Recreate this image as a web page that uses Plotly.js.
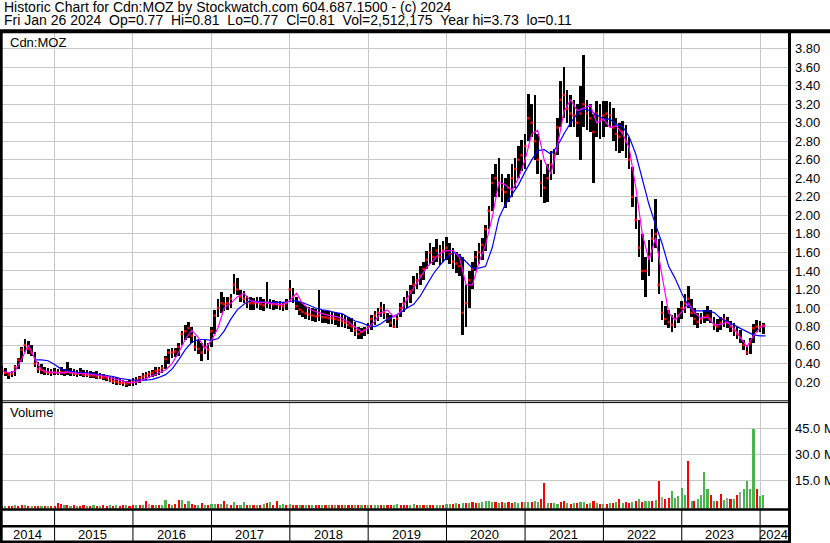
<!DOCTYPE html>
<html><head><meta charset="utf-8">
<script src="https://cdn.plot.ly/plotly-3.0.1.min.js"></script>
<style>html,body{margin:0;padding:0;background:#fff;overflow:hidden}#chart{width:830px;height:543px}</style>
</head><body><div id="chart"></div>
<script>
// ---------- text ----------
const HEADER_1 = "Historic Chart for Cdn:MOZ by Stockwatch.com 604.687.1500 - (c) 2024";
const HEADER_2 = "Fri Jan 26 2024 \u00a0Op=0.77 \u00a0Hi=0.81 \u00a0Lo=0.77 \u00a0Cl=0.81 \u00a0Vol=2,512,175 \u00a0Year hi=3.73 \u00a0lo=0.11";
const PRICE_LABEL = "Cdn:MOZ";
const VOLUME_LABEL = "Volume";
const YEAR_LABELS = ["2014","2015","2016","2017","2018","2019","2020","2021","2022","2023","2024"];
const VOL_TICKS = [15, 30, 45];
const VOL_TICK_TEXT = ["15.0 M", "30.0 M", "45.0 M"];

// ---------- half-monthly price bars (high / low / close) ----------
const HIGH_2014 = [.37,.35,.31,.32,.38,.46,.58,.66,.64,.60,.53,.42,.40,.36,.35,.34];
const LOW_2014  = [.28,.27,.23,.26,.27,.34,.42,.52,.50,.48,.36,.30,.29,.28,.28,.27];
const CLOSE_2014= [.33,.30,.28,.29,.36,.44,.55,.60,.56,.52,.40,.34,.33,.31,.30,.30];

const HIGH_2015 = [.35,.34,.36,.34,.42,.35,.34,.33,.35,.33,.33,.32,.31,.32,.30,.29,.28,.27,.26,.25,.24,.22,.21,.22];
const LOW_2015  = [.28,.28,.28,.27,.28,.27,.27,.26,.27,.26,.25,.24,.24,.23,.23,.22,.21,.20,.18,.17,.17,.16,.15,.16];
const CLOSE_2015= [.31,.30,.31,.30,.31,.30,.29,.29,.30,.28,.28,.27,.27,.26,.25,.25,.24,.22,.21,.20,.19,.19,.18,.19];

const HIGH_2016 = [.24,.25,.27,.30,.31,.32,.33,.36,.36,.38,.48,.56,.57,.57,.62,.75,.82,.85,.80,.70,.65,.62,.65,.62];
const LOW_2016  = [.16,.17,.19,.21,.22,.24,.26,.27,.28,.30,.34,.40,.46,.47,.48,.60,.65,.68,.62,.54,.50,.43,.50,.44];
const CLOSE_2016= [.20,.22,.24,.26,.27,.29,.30,.32,.33,.35,.45,.52,.52,.53,.58,.72,.75,.78,.70,.58,.56,.52,.58,.55];

const HIGH_2017 = [.80,.98,1.10,1.17,1.12,1.12,1.15,1.37,1.32,1.19,1.18,1.13,1.12,1.11,1.12,1.12,1.10,1.28,1.10,1.09,1.08,1.08,1.07,1.10];
const LOW_2017  = [.58,.72,.90,.95,.97,.98,1.00,1.15,1.14,1.07,1.05,1.00,.98,.98,1.00,.98,.97,1.00,.99,.98,.99,.98,.97,.98];
const CLOSE_2017= [.75,.92,1.00,1.05,1.04,1.05,1.10,1.25,1.20,1.12,1.10,1.06,1.05,1.05,1.06,1.04,1.03,1.06,1.05,1.04,1.04,1.03,1.02,1.05];

const HIGH_2018 = [1.30,1.22,1.12,1.06,1.05,1.02,1.01,1.00,.99,1.19,.98,.97,.97,.96,.96,.95,.94,.92,.90,.89,.85,.80,.78,.80];
const LOW_2018  = [1.08,1.05,.98,.92,.90,.88,.87,.86,.85,.86,.84,.84,.83,.83,.82,.80,.79,.78,.77,.74,.70,.66,.67,.70];
const CLOSE_2018= [1.20,1.12,1.02,.98,.96,.94,.93,.92,.91,.92,.90,.90,.89,.89,.88,.87,.86,.84,.82,.80,.76,.72,.74,.76];

const HIGH_2019 = [.84,.92,.97,1.00,1.06,1.04,.95,.92,.88,.92,1.05,1.12,1.18,1.25,1.35,1.38,1.45,1.50,1.62,1.70,1.66,1.74,1.68,1.72];
const LOW_2019  = [.72,.76,.82,.86,.90,.88,.84,.80,.78,.78,.90,.96,1.00,1.05,1.15,1.20,1.25,1.30,1.42,1.48,1.46,1.50,1.46,1.50];
const CLOSE_2019= [.80,.88,.92,.95,1.00,.95,.88,.84,.80,.88,1.00,1.05,1.10,1.18,1.25,1.30,1.35,1.42,1.52,1.60,1.55,1.62,1.55,1.62];

const HIGH_2020 = [1.77,1.70,1.65,1.60,1.58,1.55,1.25,1.40,1.50,1.62,1.70,1.76,1.90,2.10,2.45,2.55,2.62,2.45,2.40,2.45,2.55,2.62,2.75,2.81];
const LOW_2020  = [1.52,1.48,1.42,1.38,1.35,.71,.80,1.00,1.20,1.40,1.48,1.52,1.62,1.85,2.05,2.20,2.20,2.15,2.08,2.14,2.20,2.30,2.40,2.48];
const CLOSE_2020= [1.65,1.58,1.50,1.48,1.45,.95,1.05,1.30,1.42,1.55,1.60,1.68,1.85,2.05,2.35,2.40,2.35,2.28,2.25,2.30,2.40,2.50,2.60,2.65];

const HIGH_2021 = [2.88,3.31,3.20,3.30,2.88,2.60,2.45,2.55,2.70,2.72,3.05,3.45,3.60,3.35,3.30,3.25,3.20,3.40,3.73,3.25,3.20,3.10,3.24,3.20];
const LOW_2021  = [2.50,2.80,2.85,2.60,2.45,2.20,2.13,2.15,2.38,2.45,2.65,2.95,3.05,3.00,2.95,2.95,2.85,2.60,2.95,2.92,2.90,2.35,2.85,2.82];
const CLOSE_2021= [2.75,3.05,3.00,2.80,2.60,2.35,2.30,2.40,2.55,2.65,2.95,3.25,3.30,3.15,3.10,3.08,3.00,3.10,3.20,3.10,3.05,2.90,3.10,3.05];

const HIGH_2022 = [3.24,3.24,3.22,3.16,3.05,3.00,3.02,2.98,2.85,2.52,2.20,1.95,1.80,1.55,1.73,1.85,2.18,1.75,1.08,1.02,.98,.92,.95,1.00];
const LOW_2022  = [2.85,2.96,2.95,2.80,2.70,2.67,2.70,2.62,2.50,2.09,1.85,1.55,1.30,1.12,1.35,1.50,1.65,1.15,.87,.82,.78,.74,.78,.84];
const CLOSE_2022= [3.08,3.10,3.08,2.95,2.88,2.85,2.90,2.80,2.60,2.20,1.95,1.65,1.40,1.40,1.55,1.75,1.80,1.25,.95,.88,.85,.82,.88,.92];

const HIGH_2023 = [1.08,1.15,1.24,1.10,1.00,.95,.95,.98,1.02,.98,.90,.88,.90,.93,.90,.86,.84,.80,.76,.65,.60,.68,.83,.87];
const LOW_2023  = [.88,.95,1.00,.90,.82,.78,.83,.84,.86,.84,.76,.74,.76,.80,.78,.74,.70,.66,.62,.55,.49,.50,.62,.74];
const CLOSE_2023= [1.00,1.05,1.10,.95,.88,.85,.88,.90,.92,.88,.82,.80,.84,.88,.84,.80,.76,.72,.68,.60,.52,.62,.78,.80];

const HIGH_2024 = [.86,.84];
const LOW_2024  = [.74,.72];
const CLOSE_2024= [.80,.81];

// ---------- half-monthly volume (millions) and direction u=up d=down n=unchanged ----------
const VOL_2014 = [.4,.3,.4,.3,.5,.4,.6,.5,.4,.3,.4,.3,.3,.4,.3,.3];
const VOL_2015 = [.4,1.9,1.2,.6,.5,.4,.5,.4,.4,.5,.4,.4,.6,.4,.4,.5,.4,.5,.4,.5,.4,.6,.5,.4];
const VOL_2016 = [.5,.6,.5,.8,3.1,1.3,1.0,.8,.7,1.0,3.7,1.2,1.0,1.5,3.5,3.6,1.5,3.2,1.3,1.0,.8,1.9,.8,.6];
const VOL_2017 = [1.2,1.5,1.6,1.2,3.1,1.6,1.0,2.4,1.0,.9,2.4,.8,.7,.9,.7,.8,1.2,2.0,2.3,.8,3.1,.9,1.3,.8];
const VOL_2018 = [1.2,.9,.8,.7,.6,.8,.6,.7,.5,.9,.6,.5,.6,.5,.7,.5,.6,.5,.8,.7,.9,.8,.6,.7];
const VOL_2019 = [.7,.8,.9,.8,.9,.7,.8,.7,.8,1.3,.9,.8,.9,.8,1.3,1.0,.9,.8,.9,.7,.8,.7,.8,.9];
const VOL_2020 = [1.2,1.4,1.6,1.8,1.6,2.0,1.8,2.0,2.4,1.8,2.0,2.7,3.0,2.8,2.5,2.2,2.0,2.4,1.8,2.2,1.9,2.4,2.0,2.2];
const VOL_2021 = [2.2,2.6,2.4,2.8,2.2,4.0,13.7,2.0,1.8,2.0,1.6,2.2,3.0,1.8,1.6,2.0,1.8,2.7,2.2,1.6,2.0,3.0,1.8,1.6];
const VOL_2022 = [1.4,1.6,1.8,2.0,2.2,4.0,1.8,2.4,2.0,2.4,2.8,4.0,2.6,3.0,3.2,2.8,3.5,14.8,5.5,4.5,5.0,9.0,5.0,6.0];
const VOL_2023 = [10.3,6.7,26,3,3,4,6.7,20,10,6.4,3,3,7,3.5,4.6,4,4,6.4,8,10,14.6,10,44.4,10];
const VOL_2024 = [6.0,6.7];
const DIR_2014 = "dudd uddu dudd udud";
const DIR_2015 = "dddu dudu ddud udud dudu ddud";
const DIR_2016 = "dudu dndu duud uddu dudd udud";
const DIR_2017 = "uudu dudu duud udud udud duud";
const DIR_2018 = "uddu dudu ddud udud dudd udud";
const DIR_2019 = "uduu dudd uudd duud udud duud";
const DIR_2020 = "uudu dudu dduu uuud udud duud";
const DIR_2021 = "uudu uddu duud dudu duud udud";
const DIR_2022 = "udud udud dudu duud udnd duuu";
const DIR_2023 = "uudu duuu udud dund udnu uuud";
const DIR_2024 = "uu";

// ---------- monthly moving averages (magenta fast, blue slow) ----------
const MA_FAST_2014 = [0.32,0.30,0.32,0.45,0.60,0.45,0.33,0.31];
const MA_FAST_2015 = [0.30,0.30,0.31,0.30,0.29,0.29,0.28,0.27,0.26,0.24,0.22,0.20];
const MA_FAST_2016 = [0.19,0.21,0.24,0.27,0.30,0.33,0.40,0.52,0.66,0.76,0.68,0.56];
const MA_FAST_2017 = [0.65,0.79,1.00,1.05,1.12,1.16,1.08,1.06,1.06,1.05,1.04,1.04];
const MA_FAST_2018 = [1.08,1.16,1.05,0.99,0.96,0.94,0.92,0.91,0.89,0.85,0.79,0.74];
const MA_FAST_2019 = [0.78,0.86,0.95,0.98,0.90,0.96,1.10,1.22,1.33,1.44,1.52,1.59];
const MA_FAST_2020 = [1.62,1.62,1.55,1.25,1.25,1.50,1.68,1.98,2.36,2.33,2.27,2.40];
const MA_FAST_2021 = [2.60,2.88,2.92,2.59,2.45,2.75,3.12,3.25,3.13,3.16,3.19,3.00];
const MA_FAST_2022 = [3.04,2.95,2.97,2.88,2.73,2.30,1.80,1.52,1.76,1.35,0.95,0.87];
const MA_FAST_2023 = [0.96,1.05,0.95,0.89,0.90,0.82,0.82,0.85,0.78,0.68,0.58,0.70];
const MA_FAST_2024 = [0.79,0.81];

const MA_SLOW_2014 = [null,null,null,null,null,0.44,0.44,0.43];
const MA_SLOW_2015 = [0.39,0.34,0.32,0.31,0.30,0.30,0.29,0.28,0.27,0.26,0.24,0.23];
const MA_SLOW_2016 = [0.22,0.22,0.22,0.23,0.25,0.28,0.34,0.44,0.55,0.63,0.66,0.66];
const MA_SLOW_2017 = [0.65,0.67,0.75,0.88,0.98,1.04,1.08,1.07,1.06,1.06,1.06,1.06];
const MA_SLOW_2018 = [1.07,1.08,1.06,1.03,1.00,0.98,0.97,0.95,0.94,0.90,0.86,0.84];
const MA_SLOW_2019 = [0.81,0.80,0.83,0.88,0.91,0.95,1.00,1.04,1.13,1.25,1.37,1.46];
const MA_SLOW_2020 = [1.54,1.60,1.57,1.50,1.43,1.43,1.45,1.65,1.97,2.12,2.22,2.33];
const MA_SLOW_2021 = [2.47,2.60,2.70,2.71,2.66,2.75,2.88,3.00,3.10,3.15,3.13,3.09];
const MA_SLOW_2022 = [3.04,3.04,2.98,2.96,2.85,2.66,2.38,2.12,1.90,1.70,1.45,1.32];
const MA_SLOW_2023 = [1.16,1.02,0.97,0.97,0.97,0.95,0.89,0.85,0.82,0.78,0.74,0.71];
const MA_SLOW_2024 = [0.70,0.70];

const FIRST_YEAR = 2014, FIRST_MONTH = 5, LAST_DATE = "2024-01-26";
const X_RANGE = ["2014-05-01", "2024-05-10"];

// ---------- assemble ----------
const cat = (...a) => [].concat(...a);
const HIGH = cat(HIGH_2014,HIGH_2015,HIGH_2016,HIGH_2017,HIGH_2018,HIGH_2019,HIGH_2020,HIGH_2021,HIGH_2022,HIGH_2023,HIGH_2024);
const LOW = cat(LOW_2014,LOW_2015,LOW_2016,LOW_2017,LOW_2018,LOW_2019,LOW_2020,LOW_2021,LOW_2022,LOW_2023,LOW_2024);
const CLOSE = cat(CLOSE_2014,CLOSE_2015,CLOSE_2016,CLOSE_2017,CLOSE_2018,CLOSE_2019,CLOSE_2020,CLOSE_2021,CLOSE_2022,CLOSE_2023,CLOSE_2024);
const VOL = cat(VOL_2014,VOL_2015,VOL_2016,VOL_2017,VOL_2018,VOL_2019,VOL_2020,VOL_2021,VOL_2022,VOL_2023,VOL_2024);
const DIR = [DIR_2014,DIR_2015,DIR_2016,DIR_2017,DIR_2018,DIR_2019,DIR_2020,DIR_2021,DIR_2022,DIR_2023,DIR_2024].join('').replace(/\s/g,'').split('');
const MA_FAST = cat(MA_FAST_2014,MA_FAST_2015,MA_FAST_2016,MA_FAST_2017,MA_FAST_2018,MA_FAST_2019,MA_FAST_2020,MA_FAST_2021,MA_FAST_2022,MA_FAST_2023,MA_FAST_2024);
const MA_SLOW = cat(MA_SLOW_2014,MA_SLOW_2015,MA_SLOW_2016,MA_SLOW_2017,MA_SLOW_2018,MA_SLOW_2019,MA_SLOW_2020,MA_SLOW_2021,MA_SLOW_2022,MA_SLOW_2023,MA_SLOW_2024);

const pad = n => String(n).padStart(2,'0');
function halfMonthDates(n){ const out=[]; let y=FIRST_YEAR,m=FIRST_MONTH,h=0;
  for(let i=0;i<n;i++){ out.push(y+'-'+pad(m)+'-'+(h?'16':'01')); if(h){m++; if(m>12){m=1;y++;}} h=1-h; } return out; }
function monthDates(n){ const out=[]; let y=FIRST_YEAR,m=FIRST_MONTH;
  for(let i=0;i<n;i++){ out.push(y+'-'+pad(m)+'-01'); m++; if(m>12){m=1;y++;} } return out; }
const DATES = halfMonthDates(HIGH.length);
const MA_DATES = monthDates(MA_FAST.length-1).concat([LAST_DATE]);

const DIR_COLOR = {u:'#4cb44c', d:'#ff0000', n:'#a0a0a0'};
const DAY = 864e5;
const W = 830, H = 543;
const FONT = 'Liberation Sans, Arial, sans-serif';
const px = v => v / W, py = v => 1 - v / H;
const VOL_RANGE = [-1.27, 59.9];

const traces = [
  {type:'bar', x:DATES, base:LOW, y:HIGH.map((h,i)=>+(h-LOW[i]).toFixed(3)), width:12*DAY,
   marker:{color:'#000', line:{width:0}}, xaxis:'x', yaxis:'y', hoverinfo:'skip'},
  {type:'scatter', mode:'markers', x:DATES, y:CLOSE, marker:{symbol:'square', size:2.5, color:'#ff0000', line:{width:0}},
   xaxis:'x', yaxis:'y', hoverinfo:'skip'},
  {type:'scatter', mode:'lines', x:MA_DATES, y:MA_SLOW, line:{color:'#0000ff', width:1.2}, xaxis:'x', yaxis:'y', hoverinfo:'skip'},
  {type:'scatter', mode:'lines', x:MA_DATES, y:MA_FAST, line:{color:'#ff00ff', width:1.2}, xaxis:'x', yaxis:'y', hoverinfo:'skip'},
  {type:'bar', x:DATES, base:VOL_RANGE[0], y:VOL.map(v=>+(v-VOL_RANGE[0]).toFixed(3)), width:10*DAY,
   marker:{color:DIR.map(d=>DIR_COLOR[d]), line:{width:0}}, xaxis:'x', yaxis:'y2', hoverinfo:'skip'}
];

// year boxes
const t = s => Date.parse(s+'T00:00:00Z');
const fmt = ms => { const d=new Date(ms); return d.getUTCFullYear()+'-'+pad(d.getUTCMonth()+1)+'-'+pad(d.getUTCDate())+' '+pad(d.getUTCHours())+':00'; };
const bounds = [t(X_RANGE[0])].concat(YEAR_LABELS.slice(1).map(y=>t(y+'-01-01'))).concat([t(X_RANGE[1])]);

const shapes = [];
const hline = (y,x0,x1,w) => shapes.push({type:'line',xref:'paper',yref:'paper',x0:px(x0),x1:px(x1),y0:py(y),y1:py(y),line:{color:'#000',width:w}});
const vline = (x,y0,y1,w) => shapes.push({type:'line',xref:'paper',yref:'paper',x0:px(x),x1:px(x),y0:py(y0),y1:py(y1),line:{color:'#000',width:w}});
hline(31.3, 0, 830, 4);
hline(400.8, 0, 789, 1);
hline(402.6, 0, 789, 1);
hline(509.5, 0, 789, 2.5);
hline(526.2, 0, 789, 2.5);
hline(541.8, 0, 789, 2.5);
vline(1.2, 31, 543, 3);
vline(789.5, 31, 543, 3);
YEAR_LABELS.slice(1).forEach(y => shapes.push({type:'line',xref:'x',yref:'paper',x0:y+'-01-01',x1:y+'-01-01',
  y0:py(510), y1:py(541), line:{color:'#000',width:1}}));

const annotations = [
  {text:HEADER_1, xref:'paper', yref:'paper', x:px(2), y:py(7), xanchor:'left', yanchor:'middle', showarrow:false, font:{size:14}},
  {text:HEADER_2, xref:'paper', yref:'paper', x:px(2), y:py(20.5), xanchor:'left', yanchor:'middle', showarrow:false, font:{size:14}},
  {text:PRICE_LABEL, xref:'paper', yref:'paper', x:px(8), y:py(42), xanchor:'left', yanchor:'middle', showarrow:false, font:{size:13}},
  {text:VOLUME_LABEL, xref:'paper', yref:'paper', x:px(8), y:py(413), xanchor:'left', yanchor:'middle', showarrow:false, font:{size:13}}
];
YEAR_LABELS.forEach((y,i) => annotations.push({text:y, xref:'x', yref:'paper', x:fmt((bounds[i]+bounds[i+1])/2),
  y:py(534.5), xanchor:'center', yanchor:'middle', xshift:-1, showarrow:false, font:{size:13}}));

const layout = {
  width:W, height:H, margin:{l:0,r:0,t:0,b:0}, paper_bgcolor:'#fff', plot_bgcolor:'#fff',
  showlegend:false, barmode:'overlay', bargap:0,
  font:{family:FONT, size:13, color:'#000'},
  xaxis:{type:'date', domain:[px(2), px(788)], range:X_RANGE, showticklabels:false, ticks:'',
    tick0:'2015-01-01', dtick:'M12', showgrid:true, gridcolor:'#c8c8c8', gridwidth:1, zeroline:false, showline:false, anchor:'y'},
  yaxis:{domain:[py(400.5), py(33)], range:[0.001, 3.97], side:'right', anchor:'x', tick0:0, dtick:0.2, tickformat:'.2f',
    showgrid:true, gridcolor:'#c8c8c8', gridwidth:1, zeroline:false, showline:false, ticks:'', ticklabelstandoff:6,
    tickfont:{size:13}},
  yaxis2:{domain:[py(508.5), py(402.6)], range:VOL_RANGE, side:'right', anchor:'x', tickvals:VOL_TICKS, ticktext:VOL_TICK_TEXT,
    showgrid:true, gridcolor:'#c8c8c8', gridwidth:1, zeroline:false, showline:false, ticks:'', ticklabelstandoff:6,
    tickfont:{size:13}},
  shapes, annotations
};
Plotly.newPlot('chart', traces, layout, {staticPlot:true, displayModeBar:false});
</script></body></html>
